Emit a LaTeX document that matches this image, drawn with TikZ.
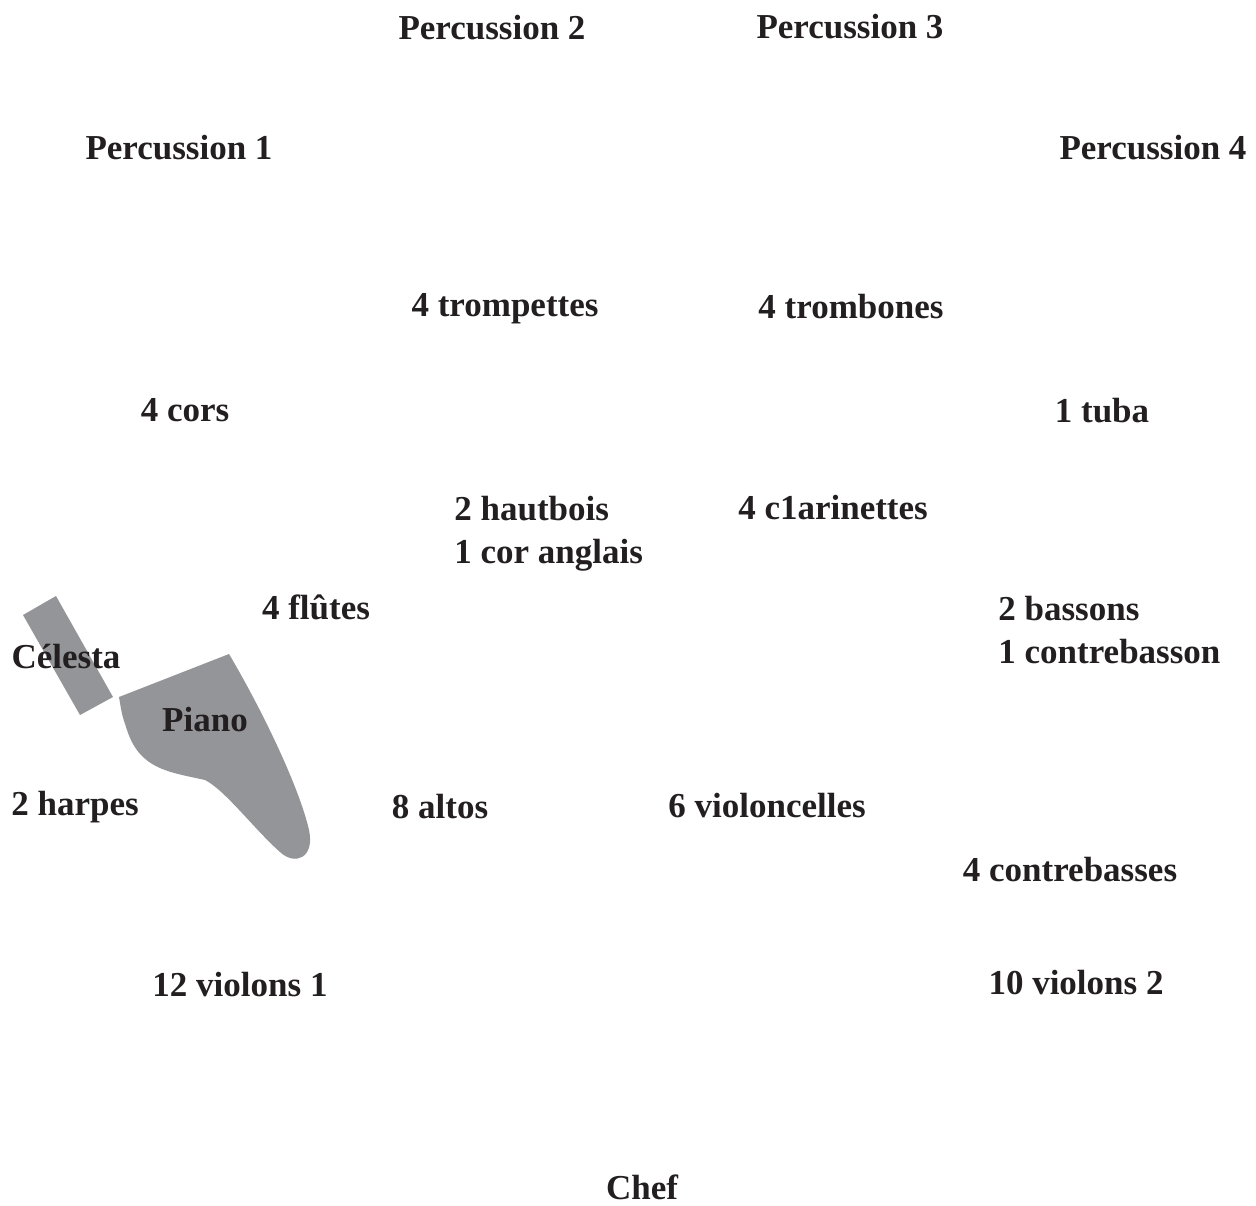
\documentclass[tikz,border=0pt]{standalone}
\usepackage{fontspec}
\setmainfont{Liberation Serif}
\definecolor{pianogrey}{RGB}{148,149,153}
\definecolor{labelink}{RGB}{35,31,32}

\begin{document}
\begin{tikzpicture}[x=0.5pt,y=-0.5pt,
  pupitre/.style={anchor=base,text=labelink,font=\fontsize{17.5}{21.5}\selectfont\bfseries,inner sep=0pt},
  pupitre2/.style={pupitre,anchor=west,align=left},
  meuble/.style={fill=pianogrey,draw=none}]

\useasboundingbox (0,0) rectangle (1256,1205);

% celesta and piano
\filldraw[meuble] (23,615) -- (56,596) -- (113,697) -- (80,715) -- cycle;
\filldraw[meuble] (119,697) -- (229,654) .. controls (265,715) and (300,790) .. (309,830)
  .. controls (315,858) and (295,866) .. (280,852)
  .. controls (255,830) and (225,790) .. (205,780)
  .. controls (170,772) and (140,770) .. (127,730)
  .. controls (122,715) .. (119,697) -- cycle;

% percussions
\node[pupitre] (perc2) at (492,39) {Percussion 2};
\node[pupitre] (perc3) at (850,38) {Percussion 3};
\node[pupitre] (perc1) at (179,159) {Percussion 1};
\node[pupitre] (perc4) at (1153,159) {Percussion 4};

% cuivres
\node[pupitre] (tpt) at (505,316) {4 trompettes};
\node[pupitre] (trb) at (851,318) {4 trombones};
\node[pupitre] (cors) at (185,421) {4 cors};
\node[pupitre] (tuba) at (1102,422) {1 tuba};

% bois
\node[pupitre2] (hb) at (454,534) {2 hautbois\\1 cor anglais};
\node[pupitre] (cl) at (833,519) {4 c1arinettes};
\node[pupitre] (fl) at (316,619) {4 flûtes};
\node[pupitre2] (bn) at (998,630) {2 bassons\\1 contrebasson};

% claviers, harpes
\node[pupitre] (cel) at (66,668) {Célesta};
\node[pupitre] (pno) at (205,731) {Piano};
\node[pupitre] (hp) at (75,815) {2 harpes};

% cordes
\node[pupitre] (alt) at (440,818) {8 altos};
\node[pupitre] (vc) at (767,817) {6 violoncelles};
\node[pupitre] (cb) at (1070,881) {4 contrebasses};
\node[pupitre] (vl1) at (240,996) {12 violons 1};
\node[pupitre] (vl2) at (1076,994) {10 violons 2};

\node[pupitre] (chef) at (642,1199) {Chef};

\end{tikzpicture}
\end{document}
